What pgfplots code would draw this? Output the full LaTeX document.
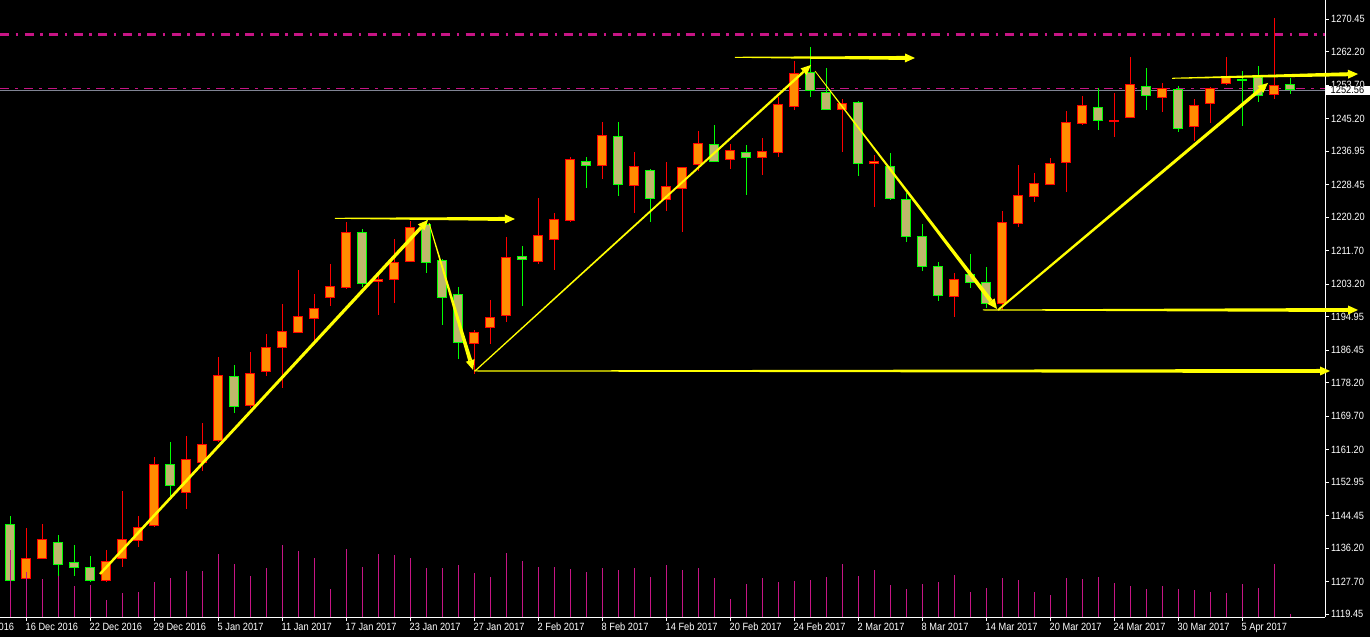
\documentclass[border=0pt]{standalone}
\usepackage{fontspec}
\setmainfont{Liberation Sans}
\newfontfamily\tickfam[FakeStretch=0.88]{Liberation Sans}
\usepackage{pgfplots}
\pgfplotsset{compat=1.18}
\usepackage{pgfplotstable}
\usetikzlibrary{calc}

\definecolor{borange}{RGB}{255,140,0}
\definecolor{bred}{RGB}{255,0,0}
\definecolor{bkhaki}{RGB}{189,183,107}
\definecolor{bgreen}{RGB}{0,255,0}
\definecolor{ayel}{RGB}{255,255,0}
\definecolor{vmag}{RGB}{199,21,133}
\definecolor{bidgray}{RGB}{128,132,148}

\newcommand\tickfont{\tickfam\fontsize{10.5}{11}\selectfont}

% bullish candles (orange body)
\pgfplotstableread{
x o h l c
1 1128.41 1141.35 1128.20 1133.58
2 1133.58 1142.29 1133.40 1138.41
6 1128.00 1135.69 1127.65 1132.72
7 1133.58 1150.66 1131.45 1138.41
8 1138.15 1144.32 1136.38 1141.35
9 1141.96 1159.22 1141.60 1157.44
11 1150.33 1164.62 1146.02 1158.71
12 1157.95 1167.84 1155.82 1162.52
13 1163.61 1184.67 1163.18 1180.03
15 1172.41 1185.94 1171.73 1180.53
16 1181.04 1190.51 1179.92 1187.13
17 1187.13 1198.12 1176.88 1191.19
18 1190.94 1206.75 1190.70 1195.00
19 1194.49 1200.66 1187.64 1197.03
20 1199.82 1208.27 1197.69 1202.61
21 1202.36 1218.85 1201.93 1216.32
23 1203.96 1205.99 1195.33 1204.39
24 1204.39 1214.62 1198.30 1208.70
25 1208.96 1219.11 1208.70 1217.59
29 1188.15 1191.45 1180.28 1190.94
30 1192.21 1199.06 1187.89 1194.75
31 1195.25 1215.05 1193.48 1209.97
33 1208.96 1224.95 1208.20 1215.56
34 1214.54 1221.14 1206.67 1219.62
35 1219.36 1235.35 1218.85 1234.84
37 1233.32 1244.23 1229.77 1240.93
39 1228.24 1236.62 1221.14 1233.07
41 1224.69 1234.08 1221.65 1227.99
42 1227.48 1232.90 1216.32 1232.81
43 1233.57 1241.95 1231.80 1238.90
45 1234.84 1238.65 1232.31 1237.13
47 1235.35 1240.17 1230.78 1236.87
48 1236.62 1250.58 1235.35 1248.80
49 1248.29 1259.71 1247.28 1256.67
52 1247.53 1250.07 1236.62 1249.05
54 1233.83 1235.86 1222.66 1234.34
59 1200.07 1205.91 1194.75 1204.39
62 1198.30 1221.65 1196.60 1218.85
63 1218.60 1233.32 1217.59 1225.71
64 1225.45 1231.29 1223.93 1228.75
65 1228.50 1235.10 1228.30 1233.83
66 1234.08 1247.02 1226.47 1244.23
67 1243.98 1250.83 1243.47 1248.55
69 1244.49 1251.59 1240.43 1244.74
70 1245.50 1260.73 1245.30 1253.88
72 1250.58 1254.13 1246.77 1252.86
74 1243.22 1250.07 1239.49 1248.55
75 1249.05 1253.12 1243.98 1252.86
76 1254.13 1260.73 1253.62 1255.65
79 1251.34 1270.63 1250.07 1253.62
}\bull

% bearish candles (khaki body)
\pgfplotstableread{
x o h l c
0 1142.21 1144.32 1127.80 1128.00
3 1137.64 1139.42 1129.17 1132.06
4 1132.57 1136.88 1129.17 1131.30
5 1131.30 1134.17 1127.65 1128.00
10 1157.44 1163.02 1149.22 1152.11
14 1179.77 1182.64 1170.54 1172.16
22 1216.32 1217.15 1202.44 1203.37
26 1218.35 1219.62 1206.06 1208.70
27 1209.21 1209.54 1192.92 1199.82
28 1200.58 1202.36 1184.09 1188.40
32 1210.23 1212.76 1197.69 1209.47
36 1234.34 1235.35 1227.48 1233.32
38 1240.68 1244.23 1225.45 1228.50
40 1232.05 1232.31 1218.85 1224.95
44 1238.65 1243.47 1234.08 1234.34
46 1236.62 1238.40 1225.71 1235.35
50 1256.92 1263.27 1250.58 1252.35
51 1251.85 1257.94 1247.28 1247.53
53 1249.31 1249.56 1230.53 1233.83
55 1233.07 1236.37 1224.44 1224.95
56 1224.69 1226.21 1213.78 1215.30
57 1215.30 1218.35 1206.42 1207.69
58 1207.69 1208.70 1198.81 1200.33
60 1205.66 1210.73 1202.11 1203.63
61 1203.63 1207.43 1197.03 1198.30
68 1248.04 1252.86 1242.20 1244.74
71 1253.37 1257.94 1247.28 1251.08
73 1252.61 1253.37 1241.70 1242.71
77 1255.15 1257.18 1243.22 1254.89
78 1255.65 1258.44 1249.31 1251.08
80 1253.88 1255.40 1251.34 1252.56
}\bear

% tick volume (relative units)
\pgfplotstableread{
x v
0 67
1 45
2 38
3 41
4 31
5 32
6 17
7 24
8 25
9 35
10 39
11 46
12 46
13 63
14 53
15 41
16 49
17 72
18 66
19 59
20 28
21 68
22 50
23 63
24 62
25 59
26 49
27 49
28 52
29 44
30 40
31 64
32 56
33 50
34 50
35 48
36 45
37 49
38 47
39 49
40 40
41 52
42 47
43 49
44 39
45 18
46 33
47 39
48 35
49 36
50 37
51 40
52 53
53 41
54 47
55 32
56 28
57 33
58 35
59 42
60 25
61 29
62 39
63 37
64 25
65 22
66 39
67 38
68 40
69 34
70 31
71 28
72 31
73 28
74 27
75 25
76 24
77 33
78 29
79 53
80 3
}\vol

\pgfplotsset{
  eb/.style 2 args={draw=none, mark=none, error bars/.cd, y dir=both, y explicit,
    error mark=none, error bar style={draw=#1, line width=#2}},
}

% tapered yellow arrow: x1 y1 x2 y2 halfwidth-start halfwidth-end
\newcommand\taper[6]{%
  \coordinate (tA) at (axis cs:#1,#2);
  \coordinate (tB) at (axis cs:#3,#4);
  \coordinate (tC) at ($(tB)!10pt!(tA)$);
  \fill[ayel] ($(tA)!#5!90:(tB)$) -- ($(tC)!#6!-90:(tA)$) -- ($(tC)!#6!90:(tA)$) -- ($(tA)!#5!-90:(tB)$) -- cycle;
  \fill[ayel] (tB) -- ($(tC)!4.5pt!-90:(tA)$) -- ($(tC)!4.5pt!90:(tA)$) -- cycle;
}

\begin{document}
\begin{tikzpicture}
\useasboundingbox (0,-20pt) rectangle (1370pt,617pt);
\fill[black] (0,-20pt) rectangle (1370pt,617pt);
\begin{axis}[
  at={(0,0)}, anchor=south west, scale only axis,
  width=1325pt, height=617pt,
  xmin=-0.625, xmax=82.1875, ymin=1118.69, ymax=1275.27,
  axis x line*=bottom, axis y line*=right,
  axis line style={white, line width=1pt, -},
  xtick={1,5,...,77},
  xticklabels={16 Dec 2016, 22 Dec 2016, 29 Dec 2016, 5 Jan 2017, 11 Jan 2017, 17 Jan 2017, 23 Jan 2017, 27 Jan 2017, 2 Feb 2017, 8 Feb 2017, 14 Feb 2017, 20 Feb 2017, 24 Feb 2017, 2 Mar 2017, 8 Mar 2017, 14 Mar 2017, 20 Mar 2017, 24 Mar 2017, 30 Mar 2017, 5 Apr 2017},
  ytick={1119.45,1127.70,1136.20,1144.45,1152.95,1161.20,1169.70,1178.20,1186.45,1194.95,1203.20,1211.70,1220.20,1228.45,1236.95,1245.20,1253.70,1262.20,1270.45},
  yticklabels={1119.45,1127.70,1136.20,1144.45,1152.95,1161.20,1169.70,1178.20,1186.45,1194.95,1203.20,1211.70,1220.20,1228.45,1236.95,1245.20,1253.70,1262.20,1270.45},
  tick align=outside, major tick length=4pt,
  tick style={white, line width=0.8pt},
  xticklabel style={anchor=north west, inner sep=0pt, xshift=-0.5pt, yshift=-2pt, font=\tickfont, text=white},
  yticklabel style={anchor=west, inner sep=0pt, xshift=2pt, font=\tickfont, text=white},
  clip=false,
]
% horizontal levels
\draw[vmag, line width=3pt, dash pattern=on 9pt off 6.5pt on 2.5pt off 6.5pt] (axis cs:-0.625,1266.46) -- (axis cs:82.1875,1266.46);
\draw[bidgray, line width=1pt] (axis cs:-0.625,1252.35) -- (axis cs:82.1875,1252.35);
\draw[vmag, line width=1.2pt, dash pattern=on 9pt off 6pt on 3pt off 6pt] (axis cs:-0.625,1252.86) -- (axis cs:82.1875,1252.86);

% wicks
\addplot[eb={bred}{1pt}] table[x=x, y expr={(\thisrow{h}+\thisrow{l})/2}, y error expr={(\thisrow{h}-\thisrow{l})/2}] {\bull};
\addplot[eb={bgreen}{1pt}] table[x=x, y expr={(\thisrow{h}+\thisrow{l})/2}, y error expr={(\thisrow{h}-\thisrow{l})/2}] {\bear};
% body outlines
\addplot[eb={bred}{10pt}] table[x=x, y expr={(\thisrow{o}+\thisrow{c})/2}, y error expr={abs(\thisrow{c}-\thisrow{o})/2+0.13}] {\bull};
\addplot[eb={bgreen}{10pt}] table[x=x, y expr={(\thisrow{o}+\thisrow{c})/2}, y error expr={abs(\thisrow{c}-\thisrow{o})/2+0.13}] {\bear};
% body fills
\addplot[eb={borange}{8pt}] table[x=x, y expr={(\thisrow{o}+\thisrow{c})/2}, y error expr={max(abs(\thisrow{c}-\thisrow{o})/2-0.13,0)}] {\bull};
\addplot[eb={bkhaki}{8pt}] table[x=x, y expr={(\thisrow{o}+\thisrow{c})/2}, y error expr={max(abs(\thisrow{c}-\thisrow{o})/2-0.13,0)}] {\bear};

% yellow arrows
\taper{5.625}{1129.60}{26.125}{1219.44}{1.2pt}{1.7pt}
\taper{20.31}{1219.87}{31.56}{1219.69}{0.5pt}{2pt}
\taper{26.19}{1218.68}{28.94}{1181.37}{0.4pt}{2pt}
\taper{29.06}{1181.12}{50.06}{1258.77}{0.6pt}{1.2pt}
\taper{29.0}{1181.12}{82.5}{1181.12}{0.5pt}{2pt}
\taper{50.31}{1257.25}{61.69}{1196.85}{0.4pt}{2pt}
\taper{60.81}{1196.60}{84.25}{1196.60}{0.5pt}{2pt}
\taper{61.75}{1196.60}{78.625}{1254.21}{1pt}{1.7pt}
\taper{72.625}{1255.40}{84.25}{1256.49}{0.5pt}{2pt}
\taper{45.31}{1260.73}{56.56}{1260.55}{0.5pt}{2pt}

\coordinate (dec12) at (axis cs:-3,1118.69);
\coordinate (bid) at (axis cs:82.1875,1252.35);
\end{axis}

\begin{axis}[
  at={(0,0)}, anchor=south west, scale only axis,
  width=1325pt, height=617pt,
  xmin=-0.625, xmax=82.1875, ymin=0, ymax=617,
  hide axis,
]
\addplot[ycomb, draw=vmag, line width=1pt, mark=none] table[x=x, y=v] {\vol};
\end{axis}

\node[anchor=north west, inner sep=0pt, xshift=-0.5pt, yshift=-6pt, font=\tickfont, text=white] at (dec12) {12 Dec 2016};
\fill[white] ($(bid)+(0.7pt,-4.8pt)$) rectangle ($(bid)+(46pt,4.8pt)$);
\node[anchor=west, inner sep=0pt, text=black, font=\tickfont] at ($(bid)+(5.5pt,0)$) {1252.56};
\end{tikzpicture}
\end{document}
